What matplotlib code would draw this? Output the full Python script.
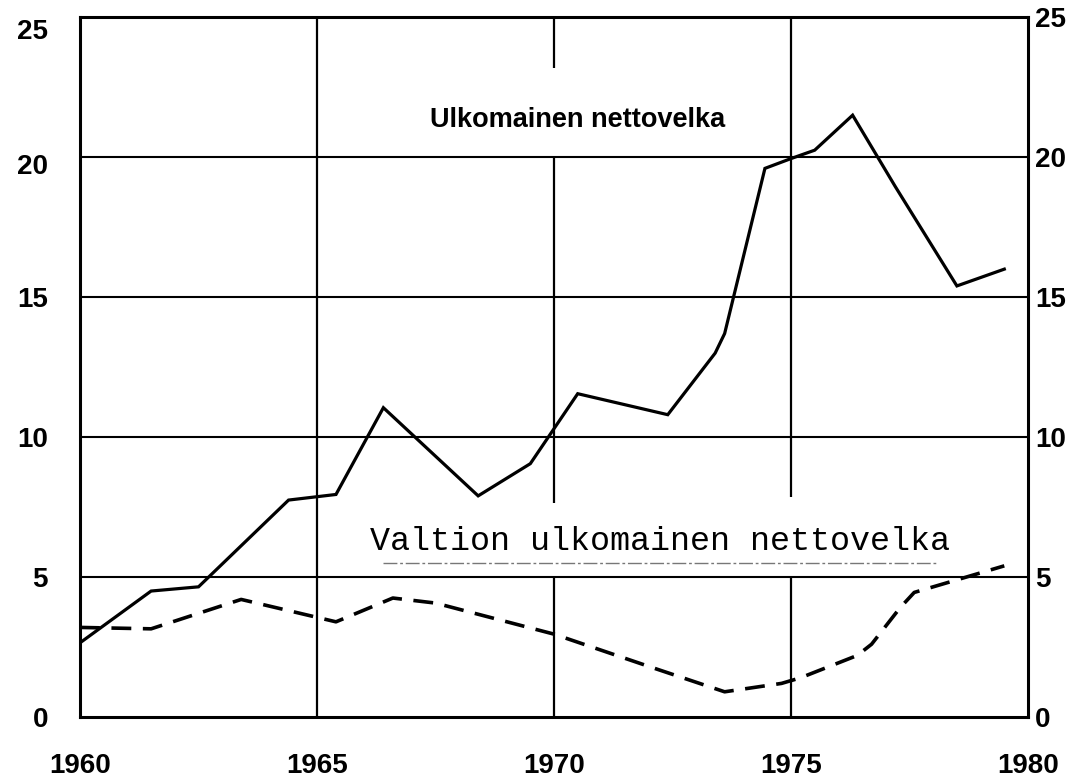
import matplotlib
matplotlib.use("Agg")
import matplotlib.pyplot as plt
from matplotlib.transforms import ScaledTranslation

# ============ DATA ============
# Ulkomainen nettovelka (solid line)
total_years = [1960.0, 1961.5, 1962.5, 1964.4, 1965.4, 1966.4, 1968.4, 1969.5,
               1970.5, 1972.4, 1973.4, 1973.6, 1974.45, 1975.0, 1975.5, 1976.3,
               1977.2, 1978.5, 1979.5]
total_debt = [2.65, 4.5, 4.65, 7.75, 7.95, 11.05, 7.9, 9.05,
              11.55, 10.8, 13.0, 13.7, 19.6, 19.95, 20.25, 21.5,
              18.95, 15.4, 16.0]

# Valtion ulkomainen nettovelka (dashed line)
state_years = [1960.0, 1961.5, 1963.4, 1965.4, 1966.6, 1967.5, 1970.0, 1972.1,
               1973.6, 1974.8, 1975.2, 1976.4, 1976.7, 1977.3, 1977.6, 1978.4,
               1979.5]
state_debt = [3.2, 3.15, 4.2, 3.4, 4.25, 4.07, 2.96, 1.75,
              0.9, 1.2, 1.4, 2.2, 2.6, 3.9, 4.45, 4.85,
              5.4]

x_ticks = [1960, 1965, 1970, 1975, 1980]
x_labels = ["1960", "1965", "1970", "1975", "1980"]
y_ticks = [0, 5, 10, 15, 20, 25]
y_labels = ["0", "5", "10", "15", "20", "25"]

label_total = "Ulkomainen nettovelka"
label_state = "Valtion ulkomainen nettovelka"

# ============ PLOT ============
fig = plt.figure(figsize=(10.77, 7.83), dpi=100)
ax = fig.add_axes([0.0743, 0.0843, 0.8802, 0.8937])

ax.set_xlim(1960, 1980)
ax.set_ylim(0, 25)

# horizontal grid
for yv in [5, 10, 15, 20]:
    ax.axhline(yv, color="black", lw=1.5, zorder=1)

# vertical grid, hand drawn with breaks behind the labels
v_segments = {1965: [(0, 25)],
              1970: [(0, 5), (7.65, 20), (23.2, 25)],
              1975: [(0, 5), (7.85, 25)]}
for xv, segs in v_segments.items():
    for lo, hi in segs:
        ax.vlines(xv, lo, hi, color="black", lw=1.6, zorder=1)

ax.plot(total_years, total_debt, color="black", lw=2.3, zorder=3,
        solid_joinstyle="miter")
ax.plot(state_years, state_debt, color="black", lw=2.6, zorder=3,
        dashes=(5.5, 3.2))

for s in ax.spines.values():
    s.set_linewidth(2.2)

font_tick = dict(family="Liberation Sans", weight="bold", size=20)

ax.set_xticks(x_ticks)
ax.set_xticklabels(x_labels, **font_tick)
ax.set_yticks(y_ticks)
ax.set_yticklabels(y_labels, **font_tick)
ax.tick_params(axis="x", length=0, pad=26)
ax.tick_params(axis="y", length=0, pad=23)

# the top two left labels sit a little low in the original
for lab, dy in zip(ax.get_yticklabels()[-2:], [-0.07, -0.12]):
    lab.set_transform(lab.get_transform() + ScaledTranslation(0, dy, fig.dpi_scale_trans))

ax2 = ax.twinx()
ax2.set_ylim(0, 25)
ax2.set_yticks(y_ticks)
ax2.set_yticklabels(y_labels, **font_tick)
ax2.tick_params(axis="y", length=0, pad=5)
for s in ax2.spines.values():
    s.set_visible(False)

ax.text(0.5245, 0.853, label_total, transform=ax.transAxes,
        ha="center", va="center", family="Liberation Sans", weight="bold",
        size=19.5)
ax.text(0.612, 0.2386, label_state, transform=ax.transAxes,
        ha="center", va="baseline", family="Liberation Mono", size=24)
# faint dashed rule under the typed label
ax.plot([0.32, 0.905], [0.22, 0.22], transform=ax.transAxes, color="#777777",
        lw=1.0, ls=(0, (10, 2, 2, 2)), zorder=2)

fig.savefig("out.png", dpi=100, facecolor="white")
